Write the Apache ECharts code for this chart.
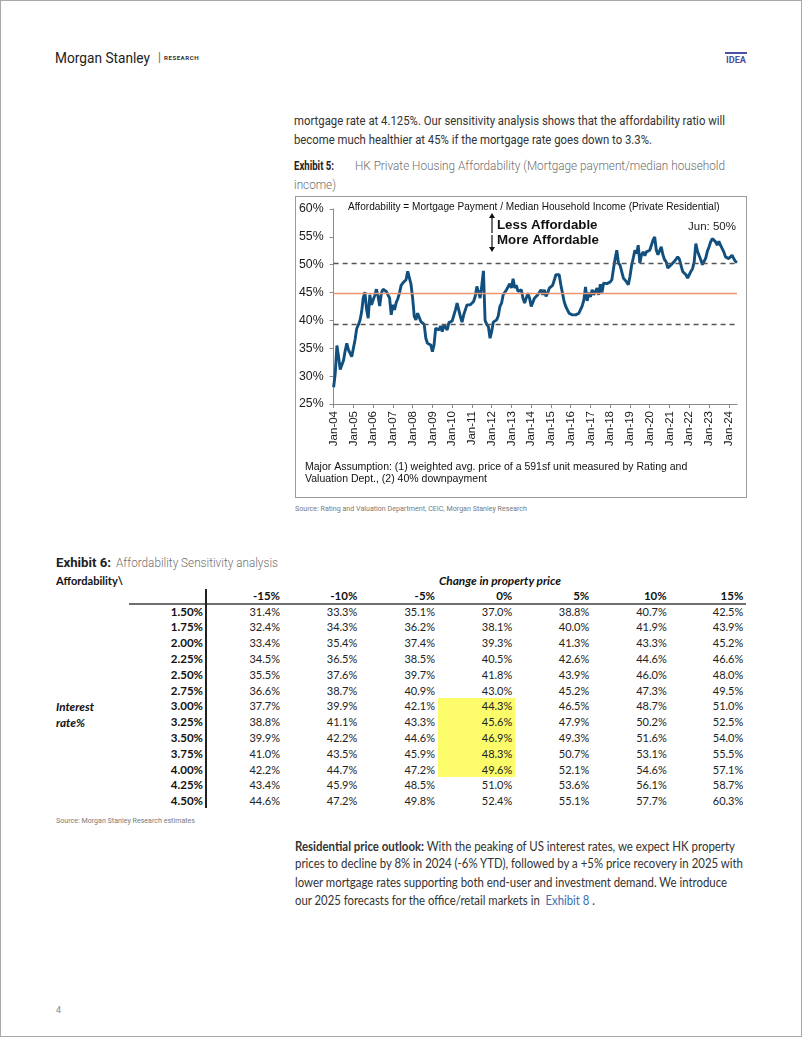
<!DOCTYPE html>
<html>
<head>
<meta charset="utf-8">
<script src="https://cdn.jsdelivr.net/npm/echarts@6/dist/echarts.min.js"></script>
<style>
  html, body { margin: 0; padding: 0; background: #fff; }
  #page { position: relative; width: 802px; height: 1037px; overflow: hidden; box-shadow: inset 0 0 0 1px #a8a8a8; }
  .t { position: absolute; white-space: nowrap; line-height: 16px; height: 16px; transform-origin: 0 50%; }
  .body1 { font-family: Roboto, sans-serif; font-size: 13px; color: #333; }
  .cap-b { font-family: Roboto, sans-serif; font-size: 12px; font-weight: 700; color: #222; }
  .cap-l { font-family: Roboto, sans-serif; font-size: 12.5px; font-weight: 300; color: #6e6e6e; }
  .src { font-family: Roboto, sans-serif; font-size: 7px; color: #7a7a7a; }
  .tbl { font-family: Lato, sans-serif; font-size: 11px; color: #222; }
  .tbl-b { font-family: Lato, sans-serif; font-size: 11.5px; font-weight: 700; color: #111; }
  .body2 { font-family: Lato, sans-serif; font-size: 12.5px; color: #333; }
  .cell { position: absolute; white-space: nowrap; line-height: 16px; height: 16px; text-align: right; }
  #chartBox { position: absolute; left: 295px; top: 196px; width: 452px; height: 302px; box-sizing: border-box; border: 1px solid #9a9a9a; }
  #chart { width: 450px; height: 300px; }
</style>
</head>
<body>
<div id="page">
  <!-- header -->
  <div class="t" style="left:55px;top:49.5px;font-family:Roboto,sans-serif;font-size:15px;color:#222;" data-w="95">Morgan Stanley</div>
  <div class="t" style="left:158px;top:49px;font-family:Roboto,sans-serif;font-size:12px;color:#666;">|</div>
  <div class="t" style="left:164px;top:50px;font-family:Roboto,sans-serif;font-size:6px;font-weight:700;color:#333;letter-spacing:0.5px;" data-w="35">RESEARCH</div>
  <div style="position:absolute;left:725px;top:52px;width:22px;height:1.5px;background:#4b50a5;"></div>
  <div class="t" style="left:726px;top:51.5px;font-family:Roboto,sans-serif;font-size:9.5px;font-weight:700;color:#4b50a5;" data-w="20">IDEA</div>

  <!-- intro paragraph -->
  <div class="t body1" style="left:294px;top:112.5px;" data-w="431">mortgage rate at 4.125%. Our sensitivity analysis shows that the affordability ratio will</div>
  <div class="t body1" style="left:294px;top:132px;" data-w="358">become much healthier at 45% if the mortgage rate goes down to 3.3%.</div>

  <!-- exhibit 5 caption -->
  <div class="t cap-b" style="left:294px;top:157.5px;" data-w="40">Exhibit 5:</div>
  <div class="t cap-l" style="left:355px;top:157.5px;" data-w="370">HK Private Housing Affordability (Mortgage payment/median household</div>
  <div class="t cap-l" style="left:294px;top:176.5px;" data-w="42">income)</div>

  <div id="chartBox"><div id="chart"></div></div>
  <div class="t src" style="left:295px;top:500.5px;" data-w="232">Source: Rating and Valuation Department, CEIC, Morgan Stanley Research</div>

  <!-- exhibit 6 -->
  <div class="t cap-b" style="left:56px;top:554.5px;" data-w="55">Exhibit 6:</div>
  <div class="t cap-l" style="left:116px;top:554.5px;" data-w="162">Affordability Sensitivity analysis</div>
  <div class="t tbl-b" style="left:56px;top:572.5px;" data-w="67">Affordability\</div>
  <div class="t tbl-b" style="left:439px;top:572.5px;font-style:italic;" data-w="122">Change in property price</div>
  <div class="t tbl-b" style="left:56px;top:698.5px;font-style:italic;" data-w="38">Interest</div>
  <div class="t tbl-b" style="left:56px;top:714.5px;font-style:italic;" data-w="29">rate%</div>
  <div id="table"></div>
  <div class="t src" style="left:56px;top:812.5px;" data-w="139">Source: Morgan Stanley Research estimates</div>

  <!-- outlook paragraph -->
  <div class="t body2" style="left:295px;top:838.7px;" data-w="440"><b>Residential price outlook:</b> With the peaking of US interest rates, we expect HK property</div>
  <div class="t body2" style="left:295px;top:856.3px;" data-w="448">prices to decline by 8% in 2024 (-6% YTD), followed by a +5% price recovery in 2025 with</div>
  <div class="t body2" style="left:295px;top:874.7px;" data-w="432">lower mortgage rates supporting both end-user and investment demand. We introduce</div>
  <div class="t body2" style="left:295px;top:892.7px;" data-w="300">our 2025 forecasts for the office/retail markets in&nbsp; <span style="color:#3a6fb3;">Exhibit 8</span> .</div>

  <div class="t" style="left:56px;top:1002px;font-family:Roboto,sans-serif;font-size:9px;color:#888;">4</div>
</div>

<script>
// ---- chart data (affordability ratio, %, monthly) ----
const startYear = 2004;
const monthNames = ["Jan", "Feb", "Mar", "Apr", "May", "Jun", "Jul", "Aug", "Sep", "Oct", "Nov", "Dec"];
const y2004 = [28.0, 30.5, 35.5, 33.5, 31.2, 30.9, 32.8, 34.5, 35.9, 34.7, 34.4, 33.5];
const y2005 = [33.3, 36.5, 38.5, 39.2, 40.0, 41.5, 44.0, 45.1, 42.0, 40.4, 44.6, 42.8];
const y2006 = [42.5, 44.5, 45.6, 44.3, 42.6, 44.9, 45.6, 45.3, 45.2, 44.6, 44.0, 41.0];
const y2007 = [42.8, 41.9, 43.2, 43.9, 44.9, 46.3, 46.7, 47.0, 47.3, 48.8, 49.0, 46.5];
const y2008 = [44.0, 40.7, 40.1, 41.3, 41.0, 39.8, 39.6, 39.3, 36.8, 35.9, 35.8, 35.6];
const y2009 = [34.4, 35.6, 38.6, 38.9, 38.3, 39.0, 38.0, 39.2, 38.9, 38.3, 39.6, 39.5];
const y2010 = [39.9, 40.1, 41.9, 43.1, 41.9, 40.7, 39.7, 41.0, 41.9, 42.8, 43.1, 42.8];
const y2011 = [43.1, 43.4, 44.3, 46.1, 45.8, 44.0, 46.3, 48.9, 40.0, 39.3, 38.9, 36.8];
const y2012 = [38.0, 39.7, 39.9, 40.1, 40.8, 42.5, 43.1, 44.6, 44.9, 45.5, 45.3, 46.6];
const y2013 = [45.8, 47.5, 45.8, 46.3, 45.2, 45.4, 45.5, 44.0, 43.1, 42.8, 44.9, 44.0];
const y2014 = [42.5, 42.5, 44.0, 44.3, 44.6, 44.7, 45.5, 44.6, 45.5, 44.3, 44.9, 45.8];
const y2015 = [45.5, 46.3, 47.2, 48.2, 48.3, 48.2, 46.4, 44.9, 43.4, 42.5, 41.9, 41.3];
const y2016 = [41.2, 41.0, 40.8, 41.0, 41.2, 41.3, 41.6, 42.6, 43.7, 46.0, 43.5, 45.0];
const y2017 = [44.2, 45.5, 44.6, 44.6, 45.8, 44.6, 46.5, 45.0, 46.7, 46.4, 46.6, 46.8];
const y2018 = [46.9, 47.3, 49.3, 51.1, 52.6, 50.3, 49.9, 49.6, 47.6, 47.3, 46.9, 46.4];
const y2019 = [47.9, 49.9, 51.2, 52.6, 52.0, 53.5, 50.3, 51.8, 52.3, 51.6, 52.3, 52.3];
const y2020 = [52.6, 53.5, 54.4, 55.0, 52.6, 51.8, 52.0, 53.2, 51.8, 50.9, 50.5, 49.4];
const y2021 = [49.7, 50.0, 50.3, 50.6, 51.0, 51.4, 51.0, 49.9, 48.8, 49.0, 48.2, 47.6];
const y2022 = [48.2, 48.8, 49.3, 50.5, 53.8, 52.4, 52.6, 50.9, 50.0, 50.2, 51.2, 52.4];
const y2023 = [53.2, 54.1, 54.7, 54.6, 54.1, 53.5, 54.2, 53.5, 52.9, 52.3, 51.4, 51.1];
const y2024 = [51.1, 51.1, 51.7, 51.1, 50.6, 50.4];

// reference lines: +1 sd, average, -1 sd
const upperBand = 50.3;
const averageLine = 44.8;
const lowerBand = 39.3;

// ---- sensitivity table data ----
const priceChanges = ["-15%", "-10%", "-5%", "0%", "5%", "10%", "15%"];
const rates = ["1.50%", "1.75%", "2.00%", "2.25%", "2.50%", "2.75%", "3.00%", "3.25%", "3.50%", "3.75%", "4.00%", "4.25%", "4.50%"];
const sens150 = ["31.4%", "33.3%", "35.1%", "37.0%", "38.8%", "40.7%", "42.5%"];
const sens175 = ["32.4%", "34.3%", "36.2%", "38.1%", "40.0%", "41.9%", "43.9%"];
const sens200 = ["33.4%", "35.4%", "37.4%", "39.3%", "41.3%", "43.3%", "45.2%"];
const sens225 = ["34.5%", "36.5%", "38.5%", "40.5%", "42.6%", "44.6%", "46.6%"];
const sens250 = ["35.5%", "37.6%", "39.7%", "41.8%", "43.9%", "46.0%", "48.0%"];
const sens275 = ["36.6%", "38.7%", "40.9%", "43.0%", "45.2%", "47.3%", "49.5%"];
const sens300 = ["37.7%", "39.9%", "42.1%", "44.3%", "46.5%", "48.7%", "51.0%"];
const sens325 = ["38.8%", "41.1%", "43.3%", "45.6%", "47.9%", "50.2%", "52.5%"];
const sens350 = ["39.9%", "42.2%", "44.6%", "46.9%", "49.3%", "51.6%", "54.0%"];
const sens375 = ["41.0%", "43.5%", "45.9%", "48.3%", "50.7%", "53.1%", "55.5%"];
const sens400 = ["42.2%", "44.7%", "47.2%", "49.6%", "52.1%", "54.6%", "57.1%"];
const sens425 = ["43.4%", "45.9%", "48.5%", "51.0%", "53.6%", "56.1%", "58.7%"];
const sens450 = ["44.6%", "47.2%", "49.8%", "52.4%", "55.1%", "57.7%", "60.3%"];

// ---- build chart ----
const values = [].concat(y2004, y2005, y2006, y2007, y2008, y2009, y2010, y2011, y2012, y2013,
  y2014, y2015, y2016, y2017, y2018, y2019, y2020, y2021, y2022, y2023, y2024);
const monthLabels = values.map((v, i) => {
  const yy = String((startYear + Math.floor(i / 12)) % 100).padStart(2, "0");
  return monthNames[i % 12] + "-" + yy;
});
const isJan = (i) => i % 12 === 0;
const axisFont = '"Liberation Sans", Arial, sans-serif';

const chart = echarts.init(document.getElementById("chart"));
chart.setOption({
  animation: false,
  grid: { left: 37, right: 9, top: 12, bottom: 93 },
  xAxis: {
    type: "category",
    data: monthLabels,
    boundaryGap: false,
    axisLine: { lineStyle: { color: "#8a8a8a", width: 1 } },
    axisTick: { interval: isJan, length: 4, lineStyle: { color: "#8a8a8a" } },
    axisLabel: { interval: isJan, rotate: 90, fontFamily: axisFont, fontSize: 11.5, color: "#1a1a1a", margin: 7 },
    splitLine: { show: false },
  },
  yAxis: {
    type: "value",
    min: 25,
    max: 60,
    interval: 5,
    axisLine: { show: true, lineStyle: { color: "#8a8a8a", width: 1 } },
    axisTick: { show: true, length: 4, lineStyle: { color: "#8a8a8a" } },
    axisLabel: { formatter: "{value}%", fontFamily: axisFont, fontSize: 12.3, color: "#1a1a1a", margin: 10 },
    splitLine: { show: false },
  },
  series: [
    {
      // reference lines sit under the main line
      type: "line",
      data: [],
      z: 1,
      markLine: {
        silent: true,
        symbol: "none",
        label: { show: false },
        data: [
          { yAxis: upperBand, lineStyle: { type: [5, 4], color: "#555", width: 1.3 } },
          { yAxis: averageLine, lineStyle: { type: "solid", color: "#ec9470", width: 1.4, opacity: 1 } },
          { yAxis: lowerBand, lineStyle: { type: [5, 4], color: "#555", width: 1.3 } },
        ],
      },
    },
    {
      type: "line",
      data: values,
      z: 2,
      showSymbol: false,
      lineStyle: { color: "#11507e", width: 2.9 },
    },
  ],
  graphic: [
    { type: "text", x: 52, y: 10, style: { text: "Affordability = Mortgage Payment / Median Household Income (Private Residential)", font: '10.1px "Liberation Sans"', fill: "#111", verticalAlign: "middle" } },
    { type: "line", shape: { x1: 196, y1: 19, x2: 196, y2: 36 }, style: { stroke: "#111", lineWidth: 1.2 } },
    { type: "polygon", shape: { points: [[193, 21], [196, 16], [199, 21]] }, style: { fill: "#111" } },
    { type: "line", shape: { x1: 196, y1: 38, x2: 196, y2: 52 }, style: { stroke: "#111", lineWidth: 1.2 } },
    { type: "polygon", shape: { points: [[193, 50], [196, 55], [199, 50]] }, style: { fill: "#111" } },
    { type: "text", x: 201, y: 28, style: { text: "Less Affordable", font: 'bold 13.3px "Liberation Sans"', fill: "#111", verticalAlign: "middle" } },
    { type: "text", x: 201, y: 43.5, style: { text: "More Affordable", font: 'bold 13.3px "Liberation Sans"', fill: "#111", verticalAlign: "middle" } },
    { type: "text", x: 392, y: 29.7, style: { text: "Jun: 50%", font: '11.5px "Liberation Sans"', fill: "#222", verticalAlign: "middle" } },
    { type: "text", x: 9, y: 270.3, style: { text: "Major Assumption: (1) weighted avg. price of a 591sf unit measured by Rating and", font: '10.5px "Liberation Sans"', fill: "#111", verticalAlign: "middle" } },
    { type: "text", x: 9, y: 282, style: { text: "Valuation Dept., (2) 40% downpayment", font: '10.5px "Liberation Sans"', fill: "#111", verticalAlign: "middle" } },
  ],
});

// ---- build table ----
const sensRows = [sens150, sens175, sens200, sens225, sens250, sens275, sens300, sens325, sens350, sens375, sens400, sens425, sens450];
const colRights = [280, 357.3, 435, 512.3, 589.3, 666.7, 743.3];
const rowLabelRight = 203;
const headerY = 596;
const firstRowY = 611.7;
const rowStep = 15.78;
const table = document.getElementById("table");

function addDiv(style, cls, text) {
  const d = document.createElement("div");
  d.className = cls;
  d.setAttribute("style", style);
  if (text) d.textContent = text;
  table.appendChild(d);
  return d;
}
// highlight + rules
addDiv("position:absolute;left:437.5px;top:698px;width:77.5px;height:79px;background:#fcfc6a;", "");
addDiv("position:absolute;left:129px;top:602.5px;width:617px;height:2px;background:#6e6e6e;", "");
addDiv("position:absolute;left:205px;top:589px;width:1.6px;height:219px;background:#222;", "");

priceChanges.forEach((p, j) => {
  addDiv(`right:${802 - colRights[j]}px;top:${headerY - 8}px;`, "cell tbl-b", p);
});
rates.forEach((r, i) => {
  const cy = firstRowY + i * rowStep;
  addDiv(`right:${802 - rowLabelRight}px;top:${cy - 8}px;`, "cell tbl-b", r);
  sensRows[i].forEach((v, j) => {
    addDiv(`right:${802 - colRights[j]}px;top:${cy - 8}px;`, "cell tbl", v);
  });
});

// ---- squeeze text lines to their measured widths ----
function fitText() {
  document.querySelectorAll("[data-w]").forEach((el) => {
    el.style.transform = "none";
    const w = el.getBoundingClientRect().width;
    const target = parseFloat(el.dataset.w);
    if (w > 0) el.style.transform = `scaleX(${(target / w).toFixed(4)})`;
  });
}
fitText();
if (document.fonts && document.fonts.ready) document.fonts.ready.then(fitText);
</script>
</body>
</html>
